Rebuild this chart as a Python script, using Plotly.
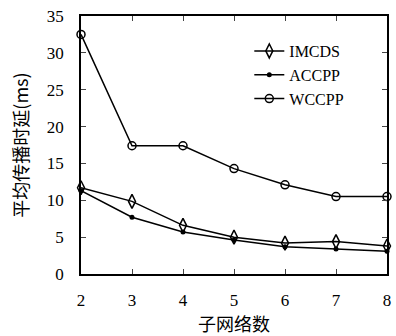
import plotly.graph_objects as go

x_vals = [2, 3, 4, 5, 6, 7, 8]
imcds = [11.7, 9.85, 6.6, 5.0, 4.2, 4.4, 3.8]
accpp = [11.3, 7.7, 5.7, 4.6, 3.7, 3.4, 3.1]
wccpp = [32.5, 17.4, 17.4, 14.3, 12.1, 10.5, 10.5]
y_ticks = [0, 5, 10, 15, 20, 25, 30, 35]

serif = "Liberation Serif"
cjk = "Noto Sans CJK SC"

fig = go.Figure()
fig.add_trace(go.Scatter(x=x_vals, y=imcds, name="IMCDS", mode="lines+markers",
                         line=dict(color="black", width=1.5),
                         marker=dict(symbol="diamond-tall-open", size=10, color="black", line=dict(width=1.5)),
                         cliponaxis=False))
fig.add_trace(go.Scatter(x=x_vals, y=accpp, name="ACCPP", mode="lines+markers",
                         line=dict(color="black", width=1.5),
                         marker=dict(symbol="circle", size=5, color="black"),
                         cliponaxis=False))
fig.add_trace(go.Scatter(x=x_vals, y=wccpp, name="WCCPP", mode="lines+markers",
                         line=dict(color="black", width=1.5),
                         marker=dict(symbol="circle-open", size=8, color="black", line=dict(width=1.5)),
                         cliponaxis=False))

fig.update_layout(
    width=396, height=336,
    margin=dict(l=81, r=5, t=16, b=62),
    paper_bgcolor="white", plot_bgcolor="white",
    showlegend=True,
    legend=dict(x=0.55, y=0.93, xanchor="left", yanchor="top",
                font=dict(family=serif, size=16, color="black"),
                bgcolor="rgba(0,0,0,0)", tracegroupgap=0, itemwidth=30),
    font=dict(family=serif, size=15, color="black"),
)
fig.update_xaxes(range=[2, 8], tickvals=x_vals, ticks="inside", ticklen=5, tickwidth=1.2,
                 showline=True, linecolor="black", linewidth=1.5, mirror="ticks",
                 showgrid=False, zeroline=False,
                 tickfont=dict(family=serif, size=17, color="black"),
                 ticklabelstandoff=10,
                 title=dict(text="子网络数", font=dict(family=cjk, size=18, color="black"), standoff=6))
fig.update_yaxes(range=[0, 35], tickvals=y_ticks, ticks="inside", ticklen=5, tickwidth=1.2,
                 showline=True, linecolor="black", linewidth=1.5, mirror="ticks",
                 showgrid=False, zeroline=False,
                 tickfont=dict(family=serif, size=17, color="black"),
                 ticklabelstandoff=12,
                 title=dict(text="平均传播时延(ms)", font=dict(family=cjk, size=18, color="black"), standoff=14))

fig.write_html("out.html", config={"displayModeBar": False},
               post_script="document.body.style.margin='0';document.body.style.overflow='hidden';")
